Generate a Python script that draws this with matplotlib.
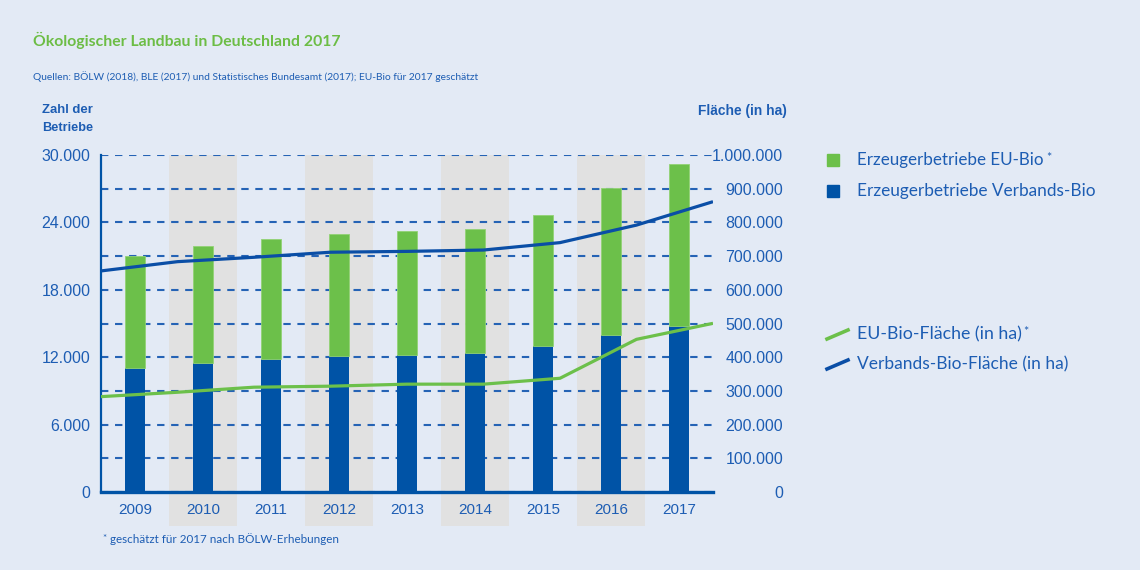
import matplotlib
matplotlib.use('Agg')
import matplotlib.pyplot as plt
from matplotlib.lines import Line2D
from matplotlib.patches import Rectangle
import numpy as np

# ---------------- data ----------------
years = ['2009', '2010', '2011', '2012', '2013', '2014', '2015', '2016', '2017']
betriebe_verbands = [11010, 11460, 11840, 12130, 12200, 12400, 12970, 13950, 14810]
betriebe_eu_bio = [10020, 10470, 10660, 10870, 11050, 10980, 11720, 13140, 14360]
flaeche_verbands = [656000, 683500, 696500, 711500, 714000, 718000, 740000, 792000, 861500]
flaeche_eu_bio = [283000, 296000, 311000, 314000, 320000, 320000, 337500, 453000, 500500]
left_ticks = [0, 6000, 12000, 18000, 24000, 30000]
right_ticks = [0, 100000, 200000, 300000, 400000, 500000, 600000, 700000, 800000, 900000, 1000000]

# ---------------- style ----------------
BG = '#e3eaf5'
BAND = '#e1e1e1'
BAR_BLUE = '#0053a6'
BAR_GREEN = '#6cc04a'
LINE_BLUE = '#0a4ea6'
LINE_GREEN = '#6cc04a'
TXT = '#1d5db3'
GRID = '#2563b5'
TITLE_GREEN = '#6cbd45'
HUMAN = ['Lato', 'DejaVu Sans']
GROT = ['Liberation Sans', 'DejaVu Sans']

plt.rcParams['lines.scale_dashes'] = False
plt.rcParams['font.family'] = GROT

W, H = 1140, 570
fig = plt.figure(figsize=(W / 100, H / 100), dpi=100)
fig.patch.set_facecolor(BG)

L, R, T, B = 101, 713, 155, 492
rect = [L / W, 1 - B / H, (R - L) / W, (B - T) / H]
ax = fig.add_axes(rect)
ax.set_facecolor('none')
x = np.arange(len(years))
ax.set_xlim(-0.5, len(years) - 0.5)
ax.set_ylim(0, 30000)

# alternating bands (extend under year labels)
for i in range(1, len(years), 2):
    ax.axvspan(i - 0.5, i + 0.5, ymin=-0.1, ymax=1, color=BAND, lw=0, zorder=0, clip_on=False)

ax.set_axisbelow(True)
ax.set_yticks(left_ticks, [f"{v:,}".replace(',', '.') for v in left_ticks])
ax.set_yticks(np.arange(0, 30001, 3000), minor=True)
ax.grid(which='both', axis='y', color=GRID, lw=1.5, linestyle=(0, (5.3, 4.8)), zorder=0.5)
ax.tick_params(axis='y', which='both', length=0, pad=7.5, labelsize=11.5, labelcolor=TXT)
ax.set_xticks(x, years)
ax.tick_params(axis='x', length=0, pad=8, labelsize=11, labelcolor=TXT)

bw = 0.29
ax.bar(x, betriebe_verbands, width=bw, color=BAR_BLUE, zorder=2, lw=0)
ax.bar(x, betriebe_eu_bio, bottom=betriebe_verbands, width=bw, color=BAR_GREEN, zorder=2,
       edgecolor='#92d274', lw=0.6)

for s in ['top', 'right']:
    ax.spines[s].set_visible(False)
ax.spines['left'].set_color(BAR_BLUE)
ax.spines['left'].set_linewidth(1.6)
ax.spines['bottom'].set_color(BAR_BLUE)
ax.spines['bottom'].set_linewidth(2.4)
ax.spines['bottom'].set_zorder(3)

# lines on overlay axis spanning the full plot width
axl = fig.add_axes(rect)
axl.patch.set_visible(False)
for s in axl.spines.values():
    s.set_visible(False)
axl.set_xlim(0, len(years) - 1)
axl.set_ylim(0, 1000000)
axl.set_xticks([])
axl.plot(np.arange(len(years)), flaeche_eu_bio, color=LINE_GREEN, lw=2.3, solid_capstyle='butt')
axl.plot(np.arange(len(years)), flaeche_verbands, color=LINE_BLUE, lw=2.3, solid_capstyle='butt')
axl.yaxis.tick_right()
axl.set_yticks(right_ticks, [f"{v:,}".replace(',', '.') for v in right_ticks])
axl.tick_params(axis='y', length=0, pad=50.5, labelsize=11.5, labelcolor=TXT)
for lbl in axl.get_yticklabels():
    lbl.set_horizontalalignment('right')

# ---------------- texts ----------------
fits = []
def ftext(xp, yp, s, w=None, **kw):
    t = fig.text(xp / W, 1 - yp / H, s, **kw)
    if w:
        fits.append((t, w))
    return t

ftext(33, 46, 'Ökologischer Landbau in Deutschland 2017', w=306, fontsize=13,
      color=TITLE_GREEN, family=HUMAN, weight='bold', va='baseline')
ftext(33, 80, 'Quellen: BÖLW (2018), BLE (2017) und Statistisches Bundesamt (2017); EU-Bio für 2017 geschätzt',
      w=446, fontsize=8.5, color=TXT, family=HUMAN, va='baseline')
ftext(42, 113, 'Zahl der', w=51, fontsize=9.5, color=TXT, weight='bold', va='baseline')
ftext(42, 131, 'Betriebe', w=51, fontsize=9.5, color=TXT, weight='bold', va='baseline')
ftext(698, 115, 'Fläche (in ha)', w=89, fontsize=10, color=TXT, weight='bold', va='baseline')

# legend
fig.add_artist(Rectangle((827 / W, 1 - 166 / H), 12 / W, 12 / H, color=BAR_GREEN, transform=fig.transFigure))
fig.add_artist(Rectangle((827 / W, 1 - 197 / H), 12 / W, 12 / H, color=BAR_BLUE, transform=fig.transFigure))
fig.add_artist(Line2D([827 / W, 848 / W], [1 - 339 / H, 1 - 330 / H], color=LINE_GREEN, lw=2.6,
                      transform=fig.transFigure))
fig.add_artist(Line2D([827 / W, 848 / W], [1 - 369 / H, 1 - 360 / H], color=LINE_BLUE, lw=2.6,
                      transform=fig.transFigure))
ftext(857, 165, 'Erzeugerbetriebe EU-Bio', w=186, fontsize=12, color=TXT, family=HUMAN, va='baseline')
ftext(1046, 162, '*', fontsize=9, color=TXT, family=HUMAN, va='baseline')
ftext(857, 196, 'Erzeugerbetriebe Verbands-Bio', w=238, fontsize=12, color=TXT, family=HUMAN, va='baseline')
ftext(857, 339, 'EU-Bio-Fläche (in ha)', w=164, fontsize=12, color=TXT, family=HUMAN, va='baseline')
ftext(1023, 336, '*', fontsize=9, color=TXT, family=HUMAN, va='baseline')
ftext(857, 369, 'Verbands-Bio-Fläche (in ha)', w=210, fontsize=12, color=TXT, family=HUMAN, va='baseline')

# footnote
ftext(102, 541, '*', fontsize=7, color=TXT, family=HUMAN, va='baseline')
ftext(110, 543, 'geschätzt für 2017 nach BÖLW-Erhebungen', w=228, fontsize=9, color=TXT,
      family=HUMAN, va='baseline')

fig.canvas.draw()
r = fig.canvas.get_renderer()
for t, w in fits:
    bb = t.get_window_extent(r)
    t.set_fontsize(t.get_fontsize() * w / bb.width)

fig.savefig('out.png', dpi=100, facecolor=BG)
